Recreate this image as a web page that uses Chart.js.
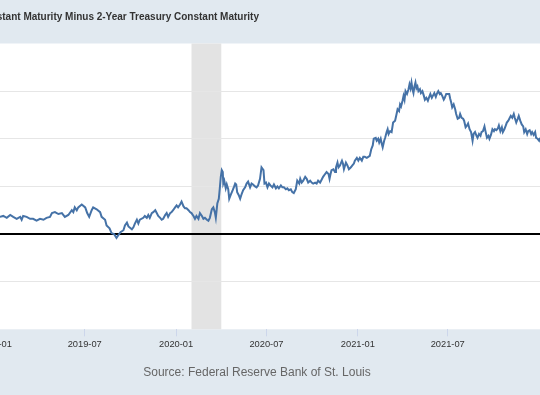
<!DOCTYPE html>
<html>
<head>
<meta charset="utf-8">
<script src="https://cdn.jsdelivr.net/npm/chart.js@4/dist/chart.umd.min.js"></script>
<style>
  html, body { margin: 0; padding: 0; }
  body { width: 540px; height: 395px; overflow: hidden; position: relative; background: #e1e9f0; font-family: "Liberation Sans", Arial, sans-serif; }
  #wrap { position: absolute; left: -50px; top: 0; width: 640px; height: 395px; }
  #title { position: absolute; right: 281px; top: 10px; white-space: nowrap; font-weight: bold; font-size: 10px; color: #333; line-height: 14px; }
  #source { position: absolute; left: 0; width: 514px; top: 365px; text-align: center; font-size: 12px; color: #666; line-height: 15px; white-space: nowrap; }
</style>
</head>
<body>
<div id="wrap"><canvas id="c" width="640" height="395"></canvas></div>
<div id="title">10-Year Treasury Constant Maturity Minus 2-Year Treasury Constant Maturity</div>
<div id="source">Source: Federal Reserve Bank of St. Louis</div>
<script>
// x values: days since 2019-01-01
const days = [10,17,24,31,37,44,51,54,57,64,71,77,84,91,98,104,111,115,121,128,135,141,148,155,158,161,165,168,175,182,186,190,195,198,205,212,215,222,225,231,235,240,245,249,253,259,262,266,269,276,279,282,
286,289,292,299,302,306,309,312,316,319,323,326,329,333,336,339,343,346,349,353,356,359,363,366,369,373,376,380,383,386,390,393,396,400,403,406,410,413,417,420,423,427,430,433,437,440,443,445,448,451,453,455,457,459,460,462,465,467,470,472,475,479,482,484,486,488,491,494,497,500,504,507,510,514,517,520,524,527,530,
534,537,541,543,546,549,552,555,559,562,566,569,572,576,579,582,586,589,592,596,599,602,606,609,613,615,618,621,625,628,631,635,638,641,645,648,651,655,658,661,665,668,672,674,676,678,682,685,687,690,692,695,699,701,703,707,710,713,717,720,723,725,729,732,735,739,742,745,749,752,755,758,761,763,767,769,772,774,777,779,781,784,786,789,791,793,796,799,802,
806,809,811,814,816,818,821,823,825,827,830,833,835,837,839,841,843,845,847,849,851,853,856,858,861,864,866,869,872,874,877,880,882,885,888,890,893,896,898,901,904,906,909,912,915,917,919,921,924,927,929,932,935,937,940,943,945,948,951,953,956,959,962,964,967,970,972,975,978,980,983,986,988,991,994,996,999,1002,1005,1007,1010,1013,1015,1018,1021,1023,1026,1029,1031,1034,1037,1039,1042,1045,1047,1050,1053,1055,1058,1061,1064,1066,1069,1072,1074,1077,1080,1082,1085,1088,1090,1093,1096,1098];
// 10-year minus 2-year spread, percent
const spread = [0.18,0.19,0.17,0.20,0.18,0.16,0.18,0.15,0.19,0.18,0.16,0.16,0.14,0.16,0.15,0.17,0.18,0.22,0.23,0.21,0.22,0.18,0.20,0.25,0.23,0.28,0.25,0.28,0.31,0.28,0.22,0.18,0.25,0.28,0.26,0.23,0.18,0.15,0.09,0.06,0.01,0.00,-0.04,-0.01,0.02,0.04,0.09,0.12,0.08,0.05,0.07,0.11,
0.15,0.11,0.15,0.17,0.19,0.17,0.20,0.17,0.22,0.23,0.25,0.22,0.19,0.17,0.15,0.16,0.20,0.22,0.18,0.22,0.23,0.25,0.28,0.30,0.28,0.31,0.34,0.29,0.27,0.27,0.25,0.23,0.22,0.19,0.16,0.19,0.16,0.22,0.19,0.16,0.17,0.15,0.14,0.17,0.26,0.28,0.23,0.17,0.32,0.37,0.48,0.60,0.67,0.65,0.53,0.56,0.48,0.52,0.47,0.37,0.41,0.46,0.50,0.53,0.52,0.44,0.41,0.37,0.42,0.46,0.49,0.53,0.55,0.49,0.53,0.52,0.50,0.49,0.51,
0.58,0.70,0.67,0.53,0.54,0.49,0.53,0.51,0.49,0.52,0.48,0.50,0.48,0.51,0.49,0.49,0.47,0.48,0.46,0.47,0.44,0.43,0.47,0.56,0.53,0.58,0.54,0.56,0.60,0.58,0.54,0.56,0.54,0.53,0.54,0.53,0.56,0.54,0.57,0.60,0.63,0.65,0.63,0.58,0.63,0.67,0.68,0.65,0.70,0.75,0.70,0.72,0.77,0.74,0.68,0.75,0.72,0.68,0.70,0.72,0.74,0.77,0.80,0.77,0.80,0.77,0.81,0.81,0.80,0.81,0.82,0.89,0.93,1.00,1.01,0.98,1.00,0.96,1.00,0.95,0.91,0.98,1.01,1.07,1.10,1.05,1.08,1.07,1.17,
1.19,1.26,1.31,1.29,1.36,1.34,1.40,1.45,1.41,1.50,1.47,1.52,1.57,1.53,1.59,1.52,1.48,1.55,1.59,1.53,1.55,1.50,1.52,1.48,1.50,1.45,1.41,1.43,1.40,1.43,1.47,1.43,1.45,1.48,1.44,1.47,1.50,1.47,1.48,1.45,1.41,1.43,1.47,1.47,1.47,1.42,1.38,1.33,1.36,1.31,1.26,1.21,1.22,1.26,1.22,1.21,1.19,1.12,1.14,1.16,1.10,1.07,0.98,1.05,1.07,1.03,1.01,1.05,1.03,1.07,1.08,1.13,1.08,1.01,1.03,1.00,1.04,1.10,1.08,1.10,1.09,1.11,1.14,1.08,1.12,1.07,1.10,1.14,1.17,1.19,1.22,1.24,1.22,1.26,1.22,1.17,1.21,1.24,1.19,1.15,1.13,1.07,1.10,1.05,1.08,1.09,1.05,1.07,1.04,1.07,1.01,1.00,0.98,1.01];
// x axis ticks (days since 2019-01-01) and labels
const tickDays = [0, 181, 365, 547, 731, 912];
const tickLabels = ["2019-01", "2019-07", "2020-01", "2020-07", "2021-01", "2021-07"];
// recession shading (days since 2019-01-01)
const recessionStart = 396;
const recessionEnd = 456;

const points = days.map((d, i) => ({ x: d, y: spread[i] }));

const bgPlugin = {
  id: 'bg',
  beforeDraw(chart) {
    const { ctx, chartArea: a, scales } = chart;
    ctx.save();
    ctx.fillStyle = '#ffffff';
    ctx.fillRect(a.left, a.top, a.right - a.left, a.bottom - a.top);
    const x1 = scales.x.getPixelForValue(recessionStart);
    const x2 = scales.x.getPixelForValue(recessionEnd);
    ctx.fillStyle = '#e3e3e3';
    ctx.fillRect(x1, a.top, x2 - x1, a.bottom - a.top);
    ctx.restore();
  }
};

new Chart(document.getElementById('c'), {
  type: 'line',
  data: {
    datasets: [{
      data: points,
      borderColor: '#4572a7',
      borderWidth: 2,
      pointRadius: 0,
      tension: 0,
      fill: false
    }]
  },
  options: {
    responsive: false,
    animation: false,
    devicePixelRatio: 1,
    layout: { padding: { top: 43.5, left: 0, right: 0, bottom: 0 } },
    plugins: { legend: { display: false }, tooltip: { enabled: false } },
    scales: {
      x: {
        type: 'linear',
        min: -90.3,
        max: 1198.5,
        afterFit(s) { s.height = 65.7; },
        afterBuildTicks(s) { s.ticks = tickDays.map(v => ({ value: v })); },
        border: { display: false },
        grid: { drawOnChartArea: false, drawTicks: true, tickLength: 7, color: '#ccd6eb' },
        ticks: {
          autoSkip: false,
          maxRotation: 0,
          padding: 3,
          color: '#333',
          font: { family: 'Liberation Sans', size: 9.3 },
          callback: (v) => tickLabels[tickDays.indexOf(v)]
        }
      },
      y: {
        min: -1,
        max: 2,
        afterFit(s) { s.width = 0; },
        border: { display: false },
        grid: {
          drawTicks: false,
          color: (c) => (c.tick.value === 0 ? '#000000' : (c.tick.value <= -1 || c.tick.value >= 2 ? 'rgba(0,0,0,0)' : '#e6e6e6')),
          lineWidth: (c) => (c.tick.value === 0 ? 2 : 1)
        },
        ticks: { display: false, stepSize: 0.5 }
      }
    }
  },
  plugins: [bgPlugin]
});
</script>
</body>
</html>
